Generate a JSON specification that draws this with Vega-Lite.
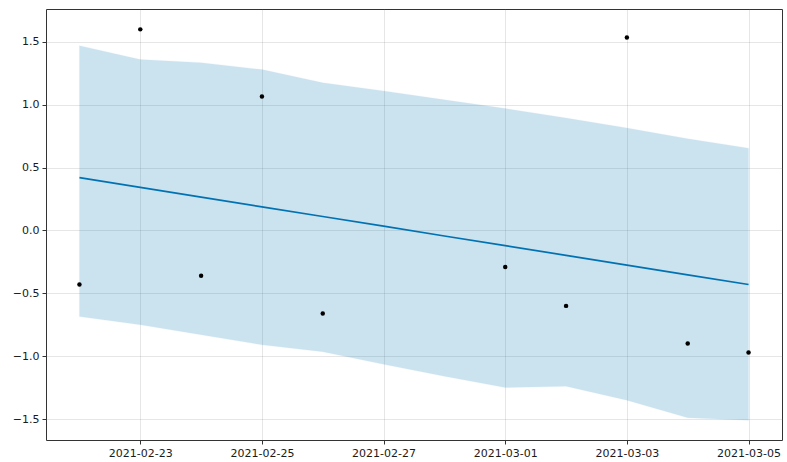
{
  "$schema": "https://vega.github.io/schema/vega-lite/v6.json",
  "width": 736,
  "height": 431,
  "autosize": "none",
  "padding": {"left": 46, "top": 9, "right": 5, "bottom": 22},
  "background": "white",
  "config": {
    "view": {"stroke": "#333333", "strokeWidth": 1},
    "axis": {
      "labelFont": "DejaVu Sans",
      "labelFontSize": 11,
      "labelColor": "#1a1a1a",
      "tickColor": "#333333",
      "tickSize": 4,
      "domain": false,
      "gridColor": "#808080",
      "gridOpacity": 0.2,
      "gridWidth": 1,
      "title": null,
      "zindex": 1
    }
  },
  "data": {
    "values": [
      {"ds": "2021-02-22", "y": -0.43, "yhat": 0.42, "lower": -0.685, "upper": 1.47},
      {"ds": "2021-02-23", "y": 1.60, "yhat": 0.343, "lower": -0.75, "upper": 1.36},
      {"ds": "2021-02-24", "y": -0.36, "yhat": 0.265, "lower": -0.83, "upper": 1.335},
      {"ds": "2021-02-25", "y": 1.065, "yhat": 0.188, "lower": -0.91, "upper": 1.28},
      {"ds": "2021-02-26", "y": -0.66, "yhat": 0.111, "lower": -0.965, "upper": 1.175},
      {"ds": "2021-02-27", "y": null, "yhat": 0.034, "lower": -1.065, "upper": 1.11},
      {"ds": "2021-02-28", "y": null, "yhat": -0.044, "lower": -1.16, "upper": 1.04},
      {"ds": "2021-03-01", "y": -0.29, "yhat": -0.121, "lower": -1.25, "upper": 0.97},
      {"ds": "2021-03-02", "y": -0.60, "yhat": -0.198, "lower": -1.24, "upper": 0.895},
      {"ds": "2021-03-03", "y": 1.535, "yhat": -0.275, "lower": -1.35, "upper": 0.815},
      {"ds": "2021-03-04", "y": -0.90, "yhat": -0.353, "lower": -1.49, "upper": 0.73},
      {"ds": "2021-03-05", "y": -0.97, "yhat": -0.43, "lower": -1.51, "upper": 0.655}
    ]
  },
  "encoding": {
    "x": {
      "field": "ds",
      "type": "temporal",
      "scale": {"type": "utc", "domain": [1613904480000, 1614949920000]},
      "axis": {
        "values": [1614038400000, 1614211200000, 1614384000000, 1614556800000, 1614729600000, 1614902400000],
        "format": "%Y-%m-%d",
        "labelPadding": 3,
        "labelFlush": false,
        "labelOverlap": false
      }
    }
  },
  "layer": [
    {
      "mark": {"type": "area", "color": "#0072B2", "opacity": 0.2, "stroke": "#0072B2", "strokeOpacity": 0.2, "strokeWidth": 1},
      "encoding": {
        "y": {
          "field": "upper",
          "type": "quantitative",
          "scale": {"domain": [-1.667, 1.762], "nice": false, "zero": false},
          "axis": {"values": [-1.5, -1.0, -0.5, 0.0, 0.5, 1.0, 1.5], "format": ".1f", "labelPadding": 3}
        },
        "y2": {"field": "lower"}
      }
    },
    {
      "mark": {"type": "line", "color": "#0072B2", "strokeWidth": 1.7},
      "encoding": {"y": {"field": "yhat", "type": "quantitative"}}
    },
    {
      "transform": [{"filter": "datum.y != null"}],
      "mark": {"type": "circle", "color": "black", "opacity": 1, "size": 20},
      "encoding": {"y": {"field": "y", "type": "quantitative"}}
    }
  ]
}
